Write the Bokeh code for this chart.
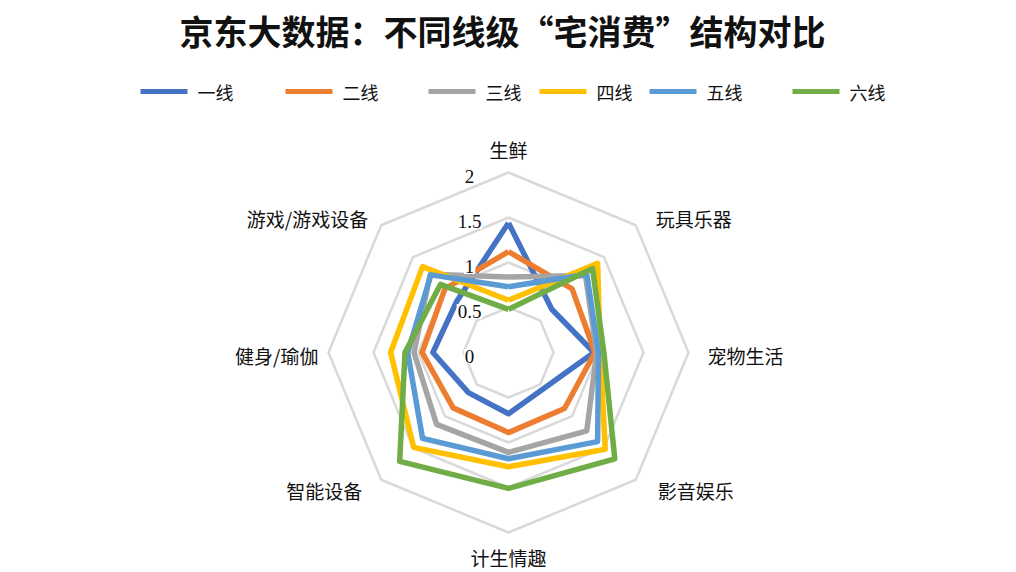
import numpy as np
from bokeh.plotting import figure
from bokeh.models import Range1d, Label
from bokeh.embed import file_html
from bokeh.resources import INLINE

title = "京东大数据：不同线级“宅消费”结构对比"
categories = ["生鲜", "玩具乐器", "宠物生活", "影音娱乐",
              "计生情趣", "智能设备", "健身/瑜伽", "游戏/游戏设备"]
series_names = ["一线", "二线", "三线", "四线", "五线", "六线"]
tier1 = [1.44, 0.68, 0.95, 0.56, 0.68, 0.63, 0.84, 0.81]
tier2 = [1.12, 1.00, 0.96, 0.88, 0.89, 0.87, 0.96, 1.00]
tier3 = [0.84, 1.21, 0.98, 1.23, 1.11, 1.13, 1.05, 1.23]
tier4 = [0.58, 1.40, 1.02, 1.52, 1.27, 1.49, 1.31, 1.35]
tier5 = [0.73, 1.23, 1.00, 1.40, 1.18, 1.35, 1.12, 1.22]
tier6 = [0.48, 1.32, 1.06, 1.67, 1.51, 1.71, 1.15, 1.07]
series = [tier1, tier2, tier3, tier4, tier5, tier6]
ticks = [0, 0.5, 1, 1.5, 2]
tick_labels = ["0", "0.5", "1", "1.5", "2"]

colors = ["#4472C4", "#ED7D31", "#A5A5A5", "#FFC000", "#5B9BD5", "#70AD47"]
FONT = "Noto Sans CJK SC"

W, H = 1016, 572
S = 90.0            # pixels per unit of the radial axis
CX, CY = 508, 352   # centre of the radar, pixels from top-left

p = figure(width=W, height=H, output_backend="svg", toolbar_location=None,
           x_axis_type=None, y_axis_type=None, min_border=0,
           x_range=Range1d(-CX / S, (W - CX) / S),
           y_range=Range1d(-(H - CY) / S, CY / S))
p.grid.visible = False
p.outline_line_color = None
p.background_fill_color = "white"


def px(x, y):
    # pixel position -> data coordinates
    return (x - CX) / S, (CY - y) / S


n = len(categories)
theta = np.pi / 2 - np.arange(n) * 2 * np.pi / n
ct, st = np.cos(theta), np.sin(theta)

# rings
for t in ticks[1:]:
    xs = list(t * ct) + [t * ct[0]]
    ys = list(t * st) + [t * st[0]]
    p.line(xs, ys, line_color="#D9D9D9", line_width=2.5)

# series
for vals, c in zip(series, colors):
    v = np.array(vals)
    xs = list(v * ct) + [v[0] * ct[0]]
    ys = list(v * st) + [v[0] * st[0]]
    p.line(xs, ys, line_color=c, line_width=5.5, line_join="round")

# tick labels
for t, lab in zip(ticks, tick_labels):
    p.add_layout(Label(x=-39 / S, y=t, text=lab, text_align="center",
                       text_baseline="middle", y_offset=-4,
                       text_font="Liberation Serif", text_font_size="19px",
                       text_color="#111111", background_fill_color="white",
                       padding=1))

# category labels: (align, dx, dy) in pixels from the outer vertex
cat_layout = [("center", 0, -23), ("left", 20, -7), ("left", 19, 3), ("left", 22, 11),
              ("center", 0, 25), ("right", -19, 11), ("right", -10, 3), ("right", -13, -7)]
rmax = ticks[-1]
for k, (name, (al, dx, dy)) in enumerate(zip(categories, cat_layout)):
    p.add_layout(Label(x=rmax * ct[k], y=rmax * st[k], x_offset=dx, y_offset=-dy,
                       text=name, text_align=al, text_baseline="middle",
                       text_font=FONT, text_font_size="19px", text_color="#111111"))

# title
tx, ty = px(502, 30)
p.add_layout(Label(x=tx, y=ty, text=title, text_align="center", text_baseline="middle",
                   text_font=FONT, text_font_size="34px", text_font_style="bold",
                   text_color="#111111"))

# legend
legend_x = [140, 285, 428, 539, 649, 792]
ly = 91
for name, c, lx in zip(series_names, colors, legend_x):
    x0, y0 = px(lx, ly)
    x1, _ = px(lx + 47, ly)
    p.line([x0, x1], [y0, y0], line_color=c, line_width=5)
    p.add_layout(Label(x=x1, y=y0, x_offset=10, text=name, text_align="left",
                       text_baseline="middle", text_font=FONT,
                       text_font_size="18px", text_color="#111111"))

open("out.html", "w").write(file_html(p, INLINE))
